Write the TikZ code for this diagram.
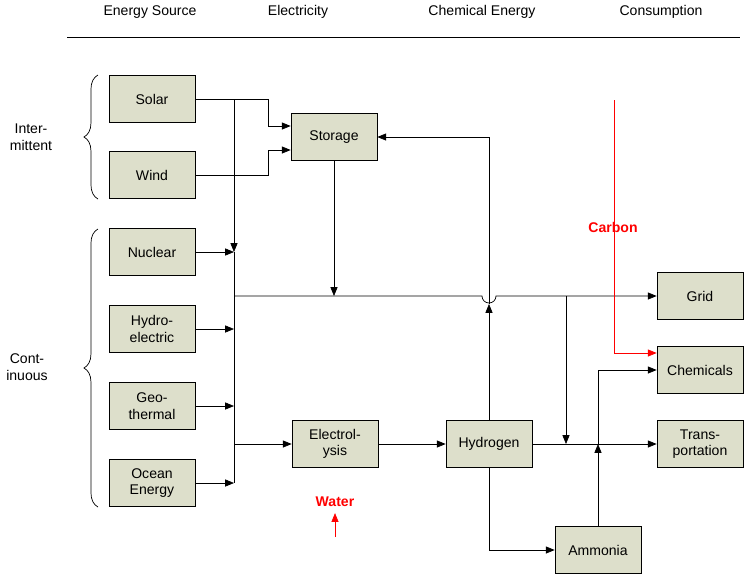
\documentclass[tikz,border=0pt]{standalone}
\usepackage{fontspec}
\setmainfont{Liberation Sans}
\usetikzlibrary{arrows.meta, positioning, calc, decorations.pathreplacing}
\definecolor{BOXFILL}{HTML}{DDDFCB}
\definecolor{CARBON}{HTML}{FF0000}
\begin{document}
\begin{tikzpicture}[x=0.02cm, y=-0.02cm,
    font=\fontsize{8}{9.5}\selectfont,
    blk/.style={draw, fill=BOXFILL, minimum width=1.72cm, minimum height=0.93cm, align=center, inner sep=1pt},
    hdr/.style={anchor=center},
    flow/.style={-{Triangle[length=5pt, width=4pt]}},
    red flow/.style={flow, CARBON}]
      \useasboundingbox (0,0) rectangle (745,576);

      % Headers
      \node[hdr] (hsrc) at (150,12) {Energy Source};
      \node[hdr] (hel) at (298,12) {Electricity};
      \node[hdr] (hchem) at (482,12) {Chemical Energy};
      \node[hdr] (hcons) at (661,12) {Consumption};
      \draw (67,37) -- (740,37);

      % Sources
      \node[blk] (solar) at (152,99) {Solar};
      \node[blk] (wind) at (152,175) {Wind};
      \node[blk] (nuclear) at (152,252) {Nuclear};
      \node[blk] (hydro) at (152,329) {Hydro-\\electric};
      \node[blk] (geo) at (152,406) {Geo-\\thermal};
      \node[blk] (ocean) at (152,483) {Ocean\\Energy};

      % Braces
      \draw[decorate, decoration={brace, amplitude=8pt}] (98,199) -- (98,75);
      \node[align=center] (inter) at (31,137) {Inter-\\mittent};
      \draw[decorate, decoration={brace, amplitude=8pt}] (98,507) -- (98,229);
      \node[align=center] (cont) at (27,367) {Cont-\\inuous};

      % Conversion and consumption
      \node[blk] (storage) at (334,137) {Storage};
      \node[blk] (elec) at (335,444) {Electrol-\\ysis};
      \node[blk] (hydrogen) at (489,444) {Hydrogen};
      \node[blk] (ammonia) at (598,550) {Ammonia};
      \node[blk] (grid) at (700,296) {Grid};
      \node[blk] (chem) at (700,370) {Chemicals};
      \node[blk] (trans) at (700,444) {Trans-\\portation};

      % Bus points
      \coordinate (bus) at (234,99);
      \coordinate (gridbus) at (234,296);
      \coordinate (hbus) at (234,444);
      \coordinate (tap) at (566,296);
      \coordinate (ntap) at (598,444);

      % Intermittent sources
      \draw (solar.east) -- (bus);
      \draw[flow] (solar.east) -| (268,126) -- (storage.west |- 0,126);
      \draw[flow] (wind.east) -| (268,150) -- (storage.west |- 0,150);
      \draw (wind.east) -- (234,175);
      \draw[flow] (bus) -- (234,252);
      \draw (234,252) -- (234,483);

      % Continuous sources
      \foreach \src in {nuclear, hydro, geo, ocean}
        \draw[flow] (\src.east) -- (\src.east -| bus);

      % Grid line with hop
      \draw[flow] (gridbus) -- (482,296) arc (180:0:7) -- (grid.west);
      \draw[flow] (storage.south) -- (storage.south |- gridbus);
      \draw[flow] (hbus) -- (elec.west);
      \draw[flow] (elec.east) -- (hydrogen.west);
      \draw[flow] (hydrogen.north) -- (489,304);
      \draw[flow] (489,304) |- (storage.east);
      \draw[flow] (hydrogen.east) -- (trans.west);
      \draw[flow] (tap) -- (566,444);
      \draw[flow] (hydrogen.south) |- (ammonia.west);
      \draw[flow] (ammonia.north) -- (ntap);
      \draw[flow] (ntap) |- (chem.west);

      % Carbon and water
      \draw[red flow] (614,100) |- (chem.west |- 0,353);
      \node[CARBON, font=\fontsize{8}{9.5}\selectfont\bfseries] (carbon) at (613,227) {Carbon};
      \node[CARBON, font=\fontsize{8}{9.5}\selectfont\bfseries] (water) at (335,502) {Water};
      \coordinate (wsrc) at (335,537);
      \draw[red flow] (wsrc) -- (water.south);
\end{tikzpicture}
\end{document}
